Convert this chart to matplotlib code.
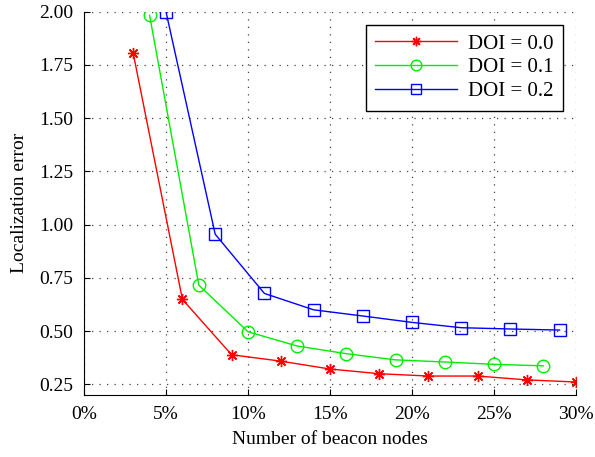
import matplotlib.pyplot as plt
from matplotlib.ticker import FuncFormatter

# 데이터
x_doi0 = [3, 6, 9, 12, 15, 18, 21, 24, 27, 30]
y_doi0 = [1.805, 0.649, 0.389, 0.359, 0.322, 0.300, 0.289, 0.289, 0.271, 0.261]
x_doi1 = [4, 7, 10, 13, 16, 19, 22, 25, 28]
y_doi1 = [1.983, 0.716, 0.497, 0.430, 0.394, 0.365, 0.355, 0.344, 0.337]
x_doi2 = [5, 8, 11, 14, 17, 20, 23, 26, 29]
y_doi2 = [2.0, 0.955, 0.677, 0.600, 0.571, 0.541, 0.516, 0.510, 0.505]
labels = ['DOI = 0.0', 'DOI = 0.1', 'DOI = 0.2']
xticks = [0, 5, 10, 15, 20, 25, 30]
yticks = [0.25, 0.5, 0.75, 1.0, 1.25, 1.5, 1.75, 2.0]

plt.rcParams['font.family'] = ['Liberation Serif', 'DejaVu Serif']
fig = plt.figure(figsize=(5.95, 4.57), dpi=100)
ax = fig.add_axes([84 / 595, 1 - 395 / 457, (576 - 84) / 595, (395 - 11.7) / 457])

ax.plot(x_doi0, y_doi0, color='red', marker=(8, 2, 0), markersize=8, mew=1.0, lw=1, label=labels[0])
ax.plot(x_doi1, y_doi1, color='#00ee00', marker='o', markersize=9, markerfacecolor='none', lw=1, label=labels[1])
ax.plot(x_doi2, y_doi2, color='blue', marker='s', markersize=8, markerfacecolor='none', lw=1, label=labels[2])

ax.set_xlim(0, 30)
ax.set_ylim(0.2, 2.0)
ax.set_xticks(xticks)
ax.set_yticks(yticks)
ax.xaxis.set_major_formatter(FuncFormatter(lambda v, p: '%d%%' % v))
ax.yaxis.set_major_formatter(FuncFormatter(lambda v, p: '%.2f' % v))
ax.tick_params(direction='in', labelsize=14, length=4, pad=8)
ax.spines['top'].set_visible(False)
ax.spines['right'].set_visible(False)
ax.grid(True, linestyle=(0, (1, 5)), color='#444444', lw=0.9)

ax.set_xlabel('Number of beacon nodes', fontsize=14, labelpad=6)
ax.set_ylabel('Localization error', fontsize=14, labelpad=8)

leg = ax.legend(loc='upper right', bbox_to_anchor=(1.0 - 13 / 492, 1.0 - 13 / 383), fontsize=15,
                fancybox=False, edgecolor='black', framealpha=1, handlelength=3.9, borderaxespad=0,
                labelspacing=0.2, handletextpad=0.55, borderpad=0.45, markerscale=0.85)
leg.get_frame().set_linewidth(1.0)

plt.savefig('out.png', dpi=100)
